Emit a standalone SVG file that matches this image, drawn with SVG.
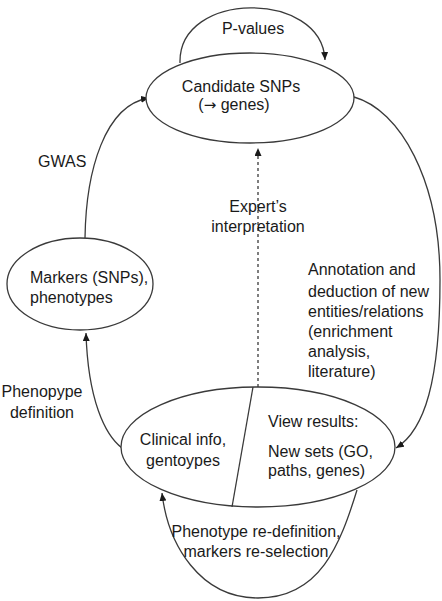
<svg xmlns="http://www.w3.org/2000/svg" width="442" height="601" viewBox="0 0 442 601">
<style>
.n{fill:#fff;stroke:#3a3a3a;stroke-width:1.3}
.e{fill:none;stroke:#3a3a3a;stroke-width:1.3}
.d{stroke-dasharray:3,3}
text{font-family:"Liberation Sans",Arial,sans-serif;font-size:16px;fill:#1a1a1a}
.c{text-anchor:middle}
</style>
<defs>
<marker id="ah" markerUnits="userSpaceOnUse" markerWidth="8" markerHeight="7" refX="8" refY="3.5" orient="auto">
<path d="M0,0 L8,3.5 L0,7 z" fill="#1a1a1a"/>
</marker>
</defs>
<g id="connectors">
<path class="e" d="M180 63 C178 -10 322 -10 325 60" marker-end="url(#ah)"/>
<path class="e" d="M85 238 C86 170 105 105 149 98" marker-end="url(#ah)"/>
<path class="e" d="M122 448 C105 435 88 400 86 333" marker-end="url(#ah)"/>
<path class="e d" d="M258 387 L258 148" marker-end="url(#ah)"/>
<path class="e" d="M354 97 C400 110 440 180 440 280 C440 380 425 430 396 448" marker-end="url(#ah)"/>
<path class="e" d="M357 490 C340 545 320 598 258 598 C200 598 168 545 162 493" marker-end="url(#ah)"/>
</g>
<g id="candidate">
<ellipse class="n" cx="250" cy="98" rx="104" ry="45"/>
<text class="c" x="241" y="92">Candidate SNPs</text>
<text class="c" x="234" y="110">(<tspan font-family="DejaVu Sans" font-size="15">→</tspan> genes)</text>
</g>
<g id="markers">
<ellipse class="n" cx="80" cy="284" rx="73" ry="46"/>
<text x="30" y="283">Markers (SNPs),</text>
<text x="30" y="303">phenotypes</text>
</g>
<g id="results">
<ellipse class="n" cx="258" cy="447" rx="137" ry="60"/>
<line class="e" x1="253" y1="387" x2="232" y2="507"/>
<text class="c" x="183" y="445">Clinical info,</text>
<text class="c" x="183" y="466">gentoypes</text>
<text x="268" y="427">View results:</text>
<text x="268" y="457">New sets (GO,</text>
<text x="268" y="476">paths, genes)</text>
</g>
<g id="labels">
<text class="c" x="253" y="34">P-values</text>
<text x="38" y="167">GWAS</text>
<text class="c" x="42" y="397">Phenopype</text>
<text class="c" x="42" y="418">definition</text>
<text class="c" x="258" y="212">Expert’s</text>
<text class="c" x="258" y="232">interpretation</text>
<text x="308" y="275">Annotation and</text>
<text x="308" y="297">deduction of new</text>
<text x="308" y="317">entities/relations</text>
<text x="308" y="337">(enrichment</text>
<text x="308" y="357">analysis,</text>
<text x="308" y="377">literature)</text>
<text class="c" x="256" y="537">Phenotype re-definition,</text>
<text class="c" x="256" y="557">markers re-selection</text>
</g>
</svg>
